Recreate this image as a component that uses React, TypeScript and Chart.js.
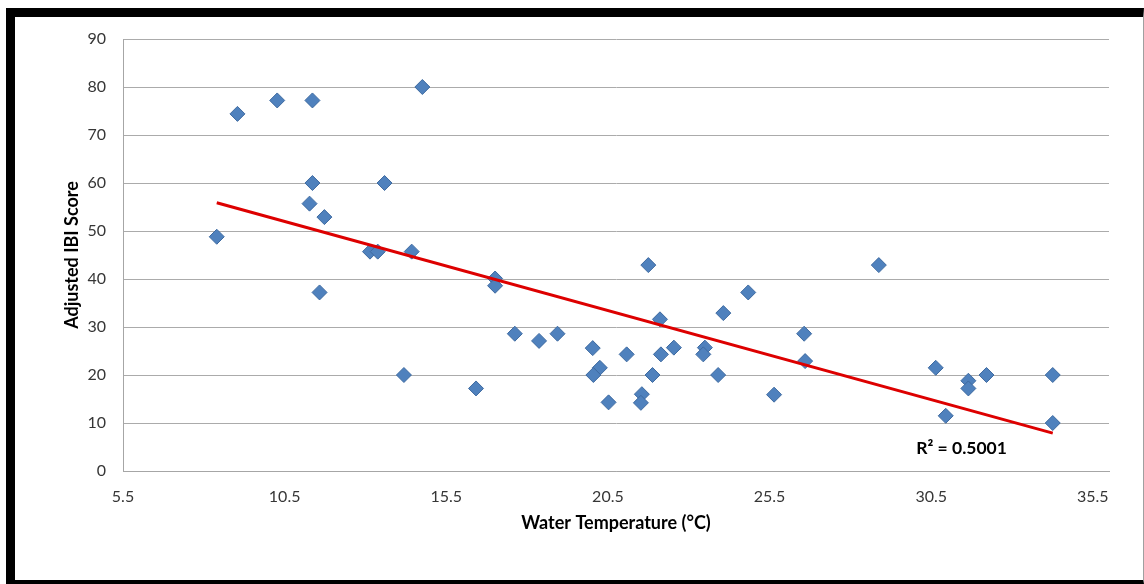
import React, { useEffect, useRef } from "react";
import { Chart, registerables } from "chart.js";

Chart.register(...registerables);

// Water temperature (°C) of each sampled site
const waterTemp = [
  8.4, 9.04, 10.27, 11.36, 14.76, 11.36, 13.59, 11.27, 11.73, 13.14, 13.38, 14.43, 11.58, 14.19, 16.42,
  17.01, 17.01, 17.62, 18.37, 18.94, 20.03, 20.25, 20.05, 20.52, 21.08, 21.55, 21.52, 21.75, 21.88, 22.11,
  22.14, 22.54, 23.5, 23.45, 23.91, 24.07,
  24.84, 25.64, 26.57, 26.6, 28.88, 30.64, 30.95, 31.65, 31.65, 32.21, 34.26, 34.26,
];
// Adjusted IBI score of each site
const ibiScore = [
  48.8, 74.4, 77.2, 77.2, 80.0, 60.0, 60.0, 55.7, 52.9, 45.7, 45.7, 45.7, 37.2, 20.0, 17.2,
  40.1, 38.6, 28.6, 27.1, 28.6, 25.6, 21.5, 20.0, 14.3, 24.3, 16.0, 14.2, 42.9, 20.0, 31.6,
  24.3, 25.7, 25.7, 24.3, 20.0, 32.9,
  37.2, 15.9, 28.6, 22.9, 42.9, 21.5, 11.5, 18.8, 17.2, 20.0, 20.0, 10.0,
];

// Linear trendline end points (as drawn in the reference)
const trendX = [8.4, 34.26];
const trendY = [55.9, 7.9];

const xTicks = [5.5, 10.5, 15.5, 20.5, 25.5, 30.5, 35.5];
const yTicks = [0, 10, 20, 30, 40, 50, 60, 70, 80, 90];

const r2Label = "R² = 0.5001";
const r2Pos = [31.44, 4.8];

const FONT = "Lato, 'Open Sans', sans-serif";

const r2Plugin = {
  id: "r2Label",
  afterDatasetsDraw(chart: any) {
    const { ctx, scales } = chart;
    const px = scales.x.getPixelForValue(r2Pos[0]);
    const py = scales.y.getPixelForValue(r2Pos[1]);
    ctx.save();
    ctx.font = `bold 17.5px ${FONT}`;
    ctx.fillStyle = "#000000";
    ctx.textAlign = "center";
    ctx.textBaseline = "middle";
    ctx.fillText(r2Label, px, py);
    ctx.restore();
  },
};

export default function App() {
  const canvasRef = useRef<HTMLCanvasElement | null>(null);

  useEffect(() => {
    document.body.style.margin = "0";
    document.body.style.overflow = "hidden";
    const canvas = canvasRef.current;
    if (!canvas) return;
    const chart = new Chart(canvas, {
      type: "scatter",
      data: {
        datasets: [
          {
            type: "line",
            label: "Trend",
            data: trendX.map((x, i) => ({ x, y: trendY[i] })),
            borderColor: "#dd0000",
            borderWidth: 3,
            pointRadius: 0,
            showLine: true,
            fill: false,
            order: 0,
          } as any,
          {
            label: "Sites",
            data: waterTemp.map((x, i) => ({ x, y: ibiScore[i] })),
            pointStyle: "rectRot",
            pointRadius: 7.5,
            pointHoverRadius: 7.5,
            backgroundColor: "#4f81bd",
            borderColor: "#3e6aa0",
            borderWidth: 1,
            order: 1,
          },
        ],
      },
      options: {
        responsive: false,
        animation: false,
        devicePixelRatio: 1,
        layout: { padding: { top: 22, right: 33, left: 0, bottom: 0 } },
        plugins: {
          legend: { display: false },
          tooltip: { enabled: false },
        },
        scales: {
          x: {
            type: "linear",
            min: 5.5,
            max: 36,
            afterBuildTicks: (scale: any) => {
              scale.ticks = xTicks.map((v) => ({ value: v }));
            },
            afterFit: (scale: any) => {
              scale.height = 109;
              scale.paddingLeft = 0;
              scale.paddingRight = 0;
            },
            grid: { display: false, drawTicks: false },
            border: { display: true, color: "#a6a6a6", width: 1 },
            ticks: {
              padding: 16,
              color: "#363636",
              font: { family: FONT, size: 16 },
              maxRotation: 0,
              autoSkip: false,
              callback: (v: any) => String(v),
            },
            title: {
              display: true,
              text: "Water Temperature (°C)",
              color: "#000000",
              font: { family: FONT, size: 18, weight: "bold" },
              padding: { top: 0, bottom: 46 },
            },
          },
          y: {
            type: "linear",
            min: 0,
            max: 90,
            afterBuildTicks: (scale: any) => {
              scale.ticks = yTicks.map((v) => ({ value: v }));
            },
            afterFit: (scale: any) => {
              scale.width = 108;
              scale.paddingTop = 0;
              scale.paddingBottom = 0;
            },
            grid: { color: "#ababab", lineWidth: 1, drawTicks: false },
            border: { display: true, color: "#a6a6a6", width: 1 },
            ticks: {
              padding: 17,
              color: "#363636",
              font: { family: FONT, size: 16 },
            },
            title: {
              display: true,
              text: "Adjusted IBI Score",
              color: "#000000",
              font: { family: FONT, size: 18, weight: "bold" },
              padding: { top: 46, bottom: 0 },
            },
          },
        },
      },
      plugins: [r2Plugin],
    } as any);
    return () => chart.destroy();
  }, []);

  return (
    <div
      style={{
        position: "fixed",
        left: 6,
        top: 8,
        width: 1138,
        height: 576,
        boxSizing: "border-box",
        borderTop: "9px solid #000",
        borderLeft: "9px solid #000",
        borderBottom: "4px solid #000",
        borderRight: "1px solid #a0a0a0",
        background: "#ffffff",
      }}
    >
      <canvas
        ref={canvasRef}
        width={1127}
        height={563}
        style={{ display: "block", width: 1127, height: 563 }}
      />
    </div>
  );
}
